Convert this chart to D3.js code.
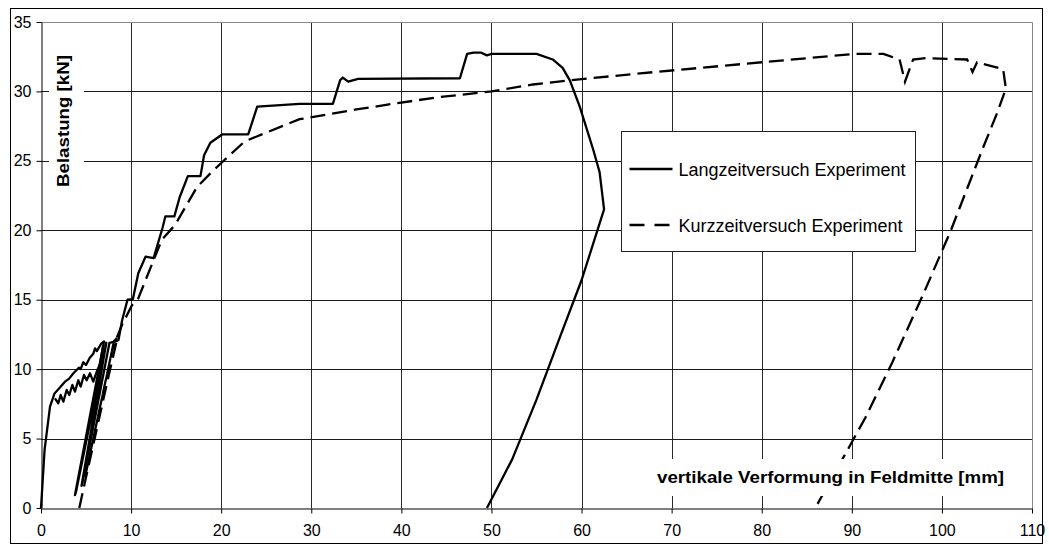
<!DOCTYPE html>
<html>
<head>
<meta charset="utf-8">
<script src="https://cdn.jsdelivr.net/npm/d3@7"></script>
<style>
    body { margin: 0; background: #fff; }
    text { font-family: Arial, "Liberation Sans", sans-serif; }
</style>
</head>
<body>
<div id="chart"></div>
<script>
// Achsen-Ticks
const xTicks = [0, 10, 20, 30, 40, 50, 60, 70, 80, 90, 100, 110];
const yTicks = [0, 5, 10, 15, 20, 25, 30, 35];

// Langzeitversuch: Hauptkurve mit Entlastungsschleifen [mm, kN]
const langzeit = [
    [0, 0], [0.4, 4.2], [1.0, 7.3], [1.37, 8.0], [1.5, 8.25], [2.0, 8.6], [2.66, 9.1],
    [3.1, 9.3], [3.6, 9.7], [4.2, 10.1], [4.4, 10.0], [4.7, 10.5], [5.0, 10.3],
    [5.4, 10.8], [5.8, 11.1], [6.0, 11.5], [6.2, 11.3], [6.7, 11.86], [7.0, 12.0],
    [3.77, 0.93], [3.9, 1.2], [7.25, 11.9], [4.5, 1.6], [4.6, 1.8], [7.6, 11.9],
    [8.3, 12.0], [8.6, 12.1],
    [9.0, 13.5], [9.6, 15.0], [10.2, 15.05], [10.8, 16.9], [11.6, 18.1], [12.5, 18.0],
    [13.5, 20.2], [13.8, 21.0], [14.8, 21.0], [15.4, 22.4], [16.3, 23.9], [17.7, 23.9],
    [18.1, 25.4], [18.8, 26.3], [20.1, 26.9], [23.0, 26.9], [24.0, 28.9], [28.7, 29.1],
    [32.4, 29.1], [33.2, 30.8], [33.5, 31.0], [34.1, 30.7], [35.2, 30.9], [46.5, 30.95],
    [47.3, 32.7], [48.0, 32.8], [48.8, 32.8], [49.5, 32.6], [50.0, 32.7], [55.0, 32.7],
    [56.8, 32.3], [57.9, 31.7], [58.7, 30.8], [59.8, 28.9], [61.3, 25.8], [62.0, 24.2],
    [62.5, 21.5], [60.0, 16.4], [57.6, 12.3], [55.0, 7.8], [52.3, 3.5], [49.5, 0]
];

// Langzeitversuch: gezackter Ast im Anfangsbereich
const langzeitZacken = [
    [1.55, 7.9], [1.92, 7.54], [2.18, 8.14], [2.48, 7.66], [2.85, 8.5], [3.14, 8.14],
    [3.48, 8.86], [3.77, 8.38], [4.14, 9.2], [4.4, 8.74], [4.77, 9.58], [5.07, 9.2],
    [5.44, 9.7], [5.8, 9.1], [6.18, 9.8], [6.55, 10.4], [6.9, 11.7]
];

// Kurzzeitversuch [mm, kN]
const kurzzeit = [
    [4.25, 0], [5.3, 3.1], [6.4, 6.3], [7.5, 9.5], [8.5, 12.3], [8.1, 12.0],
    [4.9, 2.25], [6.0, 5.6], [7.0, 8.6], [7.9, 11.4], [8.3, 12.1],
    [9.0, 13.2], [10.1, 14.6], [10.8, 15.1], [11.6, 16.4], [13.4, 19.3], [14.9, 20.4],
    [17.3, 23.1], [18.8, 24.1], [20.1, 24.9], [22.6, 26.4], [28.7, 28.0], [35, 28.7],
    [40, 29.2], [44.3, 29.6], [50, 30.0], [54.6, 30.5], [58.7, 30.8], [66.5, 31.3],
    [80, 32.1], [90.3, 32.7], [93.5, 32.7], [95.3, 32.3], [95.9, 30.7], [96.8, 32.3],
    [98.3, 32.4], [102.8, 32.3], [103.4, 31.4], [103.9, 32.1], [106.8, 31.6], [107.1, 30.2],
    [106.1, 28.4], [104.6, 26.0], [101, 20], [98, 15.5], [94.5, 10.5], [91.5, 6.5],
    [89.8, 4.5], [88, 2.4], [86.2, 0.3]
];

const seriesNames = ["Langzeitversuch Experiment", "Kurzzeitversuch Experiment"];

const W = 1049, H = 545;
const margin = { top: 22, right: 17, bottom: 37, left: 41 };

const svg = d3.select("#chart")
    .append("svg")
    .attr("width", W)
    .attr("height", H);

// äußerer Rahmen
svg.append("rect")
    .attr("x", 10.5).attr("y", 8.5)
    .attr("width", 1032).attr("height", 535)
    .attr("fill", "#fff")
    .attr("stroke", "#000");

const x = d3.scaleLinear().domain([0, 110]).range([margin.left, W - margin.right]);
const y = d3.scaleLinear().domain([0, 35]).range([H - margin.bottom, margin.top]);

// Gitterlinien
svg.append("g")
    .selectAll("line")
    .data(xTicks.slice(1, -1))
    .enter()
    .append("line")
    .attr("x1", d => Math.round(x(d)) + 0.5)
    .attr("x2", d => Math.round(x(d)) + 0.5)
    .attr("y1", y(0))
    .attr("y2", y(35))
    .attr("stroke", "#2a2a2a");

svg.append("g")
    .selectAll("line")
    .data(yTicks.slice(1, -1))
    .enter()
    .append("line")
    .attr("x1", x(0))
    .attr("x2", x(110))
    .attr("y1", d => Math.round(y(d)) + 0.5)
    .attr("y2", d => Math.round(y(d)) + 0.5)
    .attr("stroke", "#1a1a1a");

// Plotrahmen oben/rechts
svg.append("path")
    .attr("d", `M${x(0)},${Math.round(y(35)) + 0.5}H${Math.round(x(110)) + 0.5}V${y(0)}`)
    .attr("fill", "none")
    .attr("stroke", "#888");

// Kurven
const line = d3.line().x(d => x(d[0])).y(d => y(d[1]));

svg.append("path")
    .datum(langzeit)
    .attr("d", line)
    .attr("fill", "none")
    .attr("stroke", "#000")
    .attr("stroke-width", 2.3)
    .attr("stroke-linejoin", "round");

svg.append("path")
    .datum(langzeitZacken)
    .attr("d", line)
    .attr("fill", "none")
    .attr("stroke", "#000")
    .attr("stroke-width", 2.3)
    .attr("stroke-linejoin", "round");

svg.append("path")
    .datum(kurzzeit)
    .attr("d", line)
    .attr("fill", "none")
    .attr("stroke", "#000")
    .attr("stroke-width", 2.3)
    .attr("stroke-dasharray", "15,7");

// Achsen
const xAxis = svg.append("g")
    .attr("transform", `translate(0,${Math.round(y(0)) + 0.5})`)
    .call(d3.axisBottom(x).tickValues(xTicks).tickSize(5).tickSizeOuter(0).tickPadding(11));

const yAxis = svg.append("g")
    .attr("transform", `translate(${Math.round(x(0)) + 0.5},0)`)
    .call(d3.axisLeft(y).tickValues(yTicks).tickSize(5).tickSizeOuter(0).tickPadding(5));

[xAxis, yAxis].forEach(a => {
    a.selectAll("text").style("font-size", "16px").attr("fill", "#000");
    a.selectAll("line").attr("stroke", "#000");
    a.select(".domain").attr("stroke", "#000");
});

// Achsenbeschriftung y
svg.append("rect")
    .attr("x", 49).attr("y", 46)
    .attr("width", 35).attr("height", 150)
    .attr("fill", "#fff");

svg.append("text")
    .attr("transform", "translate(69,121) rotate(-90)")
    .attr("text-anchor", "middle")
    .attr("font-weight", "bold")
    .attr("font-size", 16)
    .attr("textLength", 132)
    .attr("lengthAdjust", "spacingAndGlyphs")
    .text("Belastung [kN]");

// Achsenbeschriftung x
svg.append("rect")
    .attr("x", 648).attr("y", 459)
    .attr("width", 362).attr("height", 37)
    .attr("fill", "#fff");

svg.append("text")
    .attr("x", 657)
    .attr("y", 483)
    .attr("font-weight", "bold")
    .attr("font-size", 16)
    .attr("textLength", 347)
    .attr("lengthAdjust", "spacingAndGlyphs")
    .text("vertikale Verformung in Feldmitte [mm]");

// Legende
const legend = svg.append("g")
    .attr("transform", "translate(621.5,131.5)");

legend.append("rect")
    .attr("width", 294)
    .attr("height", 120)
    .attr("fill", "#fff")
    .attr("stroke", "#222");

legend.append("line")
    .attr("x1", 8).attr("x2", 51)
    .attr("y1", 37.5).attr("y2", 37.5)
    .attr("stroke", "#000").attr("stroke-width", 2.3);

legend.append("line")
    .attr("x1", 8).attr("x2", 51)
    .attr("y1", 93.5).attr("y2", 93.5)
    .attr("stroke", "#000").attr("stroke-width", 2.3)
    .attr("stroke-dasharray", "15,10");

legend.selectAll(".lt")
    .data(seriesNames)
    .enter()
    .append("text")
    .attr("class", "lt")
    .attr("x", 57)
    .attr("y", (d, i) => 44 + i * 56)
    .attr("font-size", 18)
    .text(d => d);
</script>
</body>
</html>
